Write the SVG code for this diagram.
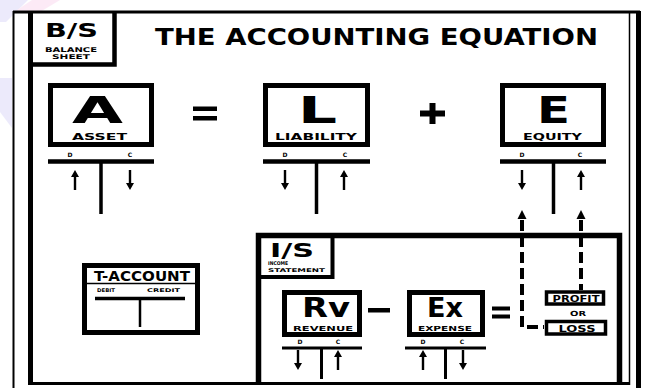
<svg xmlns="http://www.w3.org/2000/svg" width="646" height="388" viewBox="0 0 646 388">
<style>
.ln{stroke:#000;fill:none}
.box{fill:#fff;stroke:#000;stroke-width:5}
.sbox{fill:#fff;stroke:#000;stroke-width:3.5}
.t{font-family:"DejaVu Sans","Liberation Sans",sans-serif;font-weight:bold;fill:#000;text-anchor:middle}
.s{text-anchor:start}
.big{font-size:37px}
.mid{font-size:26px}
.lab{font-size:8px}
.dc{font-size:6px}
.dash{stroke:#000;stroke-width:4;fill:none;stroke-dasharray:11 5}
</style>
<defs>
<path id="up" d="M0 -10 L4 -3 H1.2 V10 H-1.2 V-3 H-4 Z" fill="#000"/>
<path id="dn" d="M0 10 L4 3 H1.2 V-10 H-1.2 V3 H-4 Z" fill="#000"/>
<path id="bigup" d="M0 0 L4.5 9 H-4.5 Z" fill="#000"/>
</defs>
<rect width="646" height="388" fill="#fff"/>
<g opacity="0.35">
<polygon points="0,0 28,0 6,22 0,22" fill="#c9c6f5"/>
<polygon points="32,0 60,0 40,12 14,12" fill="#f7c6e8"/>
<polygon points="0,78 12,78 12,128 0,112" fill="#c9c6f5"/>
</g>
<g id="frame">
<line class="ln" x1="13.5" y1="11" x2="13.5" y2="388" stroke-width="2"/>
<line class="ln" x1="13" y1="12" x2="640" y2="12" stroke-width="3"/>
<line class="ln" x1="30.5" y1="11" x2="30.5" y2="385" stroke-width="5"/>
<line class="ln" x1="28" y1="383.5" x2="630" y2="383.5" stroke-width="3"/>
<line class="ln" x1="629.5" y1="12" x2="629.5" y2="385" stroke-width="1.5"/>
<line class="ln" x1="638.5" y1="11" x2="638.5" y2="388" stroke-width="5"/>
</g>
<g id="bs-header">
<path class="ln" d="M114.5 12 V64.5 H30" stroke-width="4.5"/>
<text class="t" x="71.5" y="37" font-size="19" textLength="53" lengthAdjust="spacingAndGlyphs">B/S</text>
<text class="t" x="71" y="52" font-size="6.5" textLength="52" lengthAdjust="spacingAndGlyphs">BALANCE</text>
<text class="t" x="71" y="59" font-size="6.5" textLength="38" lengthAdjust="spacingAndGlyphs">SHEET</text>
</g>
<g id="title">
<text class="t" x="376.5" y="45" font-size="23" textLength="443" lengthAdjust="spacingAndGlyphs">THE ACCOUNTING EQUATION</text>
</g>
<g id="node-A">
<rect class="box" x="50.5" y="85.5" width="101" height="59"/>
<text class="t big" x="97.5" y="122.5" textLength="51" lengthAdjust="spacingAndGlyphs">A</text>
<text class="t lab" x="99.5" y="140" textLength="55" lengthAdjust="spacingAndGlyphs">ASSET</text>
<line class="ln" x1="48" y1="161.5" x2="154" y2="161.5" stroke-width="4.5"/>
<line class="ln" x1="101" y1="163" x2="101" y2="214" stroke-width="3.5"/>
<text class="t dc" x="70" y="157">D</text>
<text class="t dc" x="130" y="157">C</text>
<use href="#up" x="75" y="180"/>
<use href="#dn" x="130" y="180"/>
</g>
<g id="op-eq">
<rect x="193" y="106.5" width="24" height="4.5"/>
<rect x="193" y="116" width="24" height="4.5"/>
</g>
<g id="node-L">
<rect class="box" x="265.5" y="85.5" width="102" height="59"/>
<text class="t big" x="317.5" y="122.5" textLength="39" lengthAdjust="spacingAndGlyphs">L</text>
<text class="t lab" x="316" y="140" textLength="82" lengthAdjust="spacingAndGlyphs">LIABILITY</text>
<line class="ln" x1="263" y1="161.5" x2="370" y2="161.5" stroke-width="4.5"/>
<line class="ln" x1="316.5" y1="163" x2="316.5" y2="214" stroke-width="3.5"/>
<text class="t dc" x="285" y="157">D</text>
<text class="t dc" x="345" y="157">C</text>
<use href="#dn" x="285" y="180"/>
<use href="#up" x="344" y="180"/>
</g>
<g id="op-plus">
<rect x="420" y="110.5" width="25" height="6"/>
<rect x="429.5" y="103" width="6" height="21"/>
</g>
<g id="node-E">
<rect class="box" x="502.5" y="85.5" width="101" height="59"/>
<text class="t big" x="553.5" y="122.5" textLength="33" lengthAdjust="spacingAndGlyphs">E</text>
<text class="t lab" x="552.5" y="140" textLength="59" lengthAdjust="spacingAndGlyphs">EQUITY</text>
<line class="ln" x1="500" y1="161.5" x2="606" y2="161.5" stroke-width="4.5"/>
<line class="ln" x1="553.5" y1="163" x2="553.5" y2="214" stroke-width="3.5"/>
<text class="t dc" x="522" y="157">D</text>
<text class="t dc" x="580" y="157">C</text>
<use href="#dn" x="522" y="180"/>
<use href="#up" x="581" y="180"/>
</g>
<g id="t-account">
<rect class="box" x="84.5" y="265.5" width="113" height="67"/>
<line class="ln" x1="84" y1="283.5" x2="198" y2="283.5" stroke-width="1.5"/>
<text class="t" x="142" y="280.5" font-size="14" textLength="96" lengthAdjust="spacingAndGlyphs">T-ACCOUNT</text>
<text class="t" x="106" y="292" font-size="5" textLength="18" lengthAdjust="spacingAndGlyphs">DEBIT</text>
<text class="t" x="163.5" y="292" font-size="5" textLength="33" lengthAdjust="spacingAndGlyphs">CREDIT</text>
<line class="ln" x1="95" y1="298.5" x2="185" y2="298.5" stroke-width="3.5"/>
<line class="ln" x1="140" y1="299" x2="140" y2="327" stroke-width="2.5"/>
</g>
<g id="is-box">
<path class="ln" d="M258.5 385 V235.5 H619.5 V385" stroke-width="5.5"/>
<path class="ln" d="M332.5 235 V277 H258" stroke-width="4"/>
<text class="t" x="292" y="256.5" font-size="19" textLength="44" lengthAdjust="spacingAndGlyphs">I/S</text>
<text class="t s" x="268" y="264.5" font-size="5" textLength="20" lengthAdjust="spacingAndGlyphs">INCOME</text>
<text class="t s" x="268" y="271.5" font-size="5" textLength="57" lengthAdjust="spacingAndGlyphs">STATEMENT</text>
</g>
<g id="node-Rv">
<rect class="box" x="284.5" y="292.5" width="75" height="42"/>
<text class="t mid" x="326" y="316.5" textLength="48" lengthAdjust="spacingAndGlyphs">Rv</text>
<text class="t" x="323" y="331" font-size="7" textLength="60" lengthAdjust="spacingAndGlyphs">REVENUE</text>
<line class="ln" x1="282" y1="348" x2="362" y2="348" stroke-width="3"/>
<line class="ln" x1="321.5" y1="349" x2="321.5" y2="379" stroke-width="3"/>
<text class="t dc" x="300" y="344">D</text>
<text class="t dc" x="338" y="344">C</text>
<use href="#dn" x="298" y="360"/>
<use href="#up" x="338" y="360"/>
</g>
<g id="op-minus">
<rect x="368" y="308" width="22" height="4.5"/>
</g>
<g id="node-Ex">
<rect class="box" x="409.5" y="292.5" width="73" height="42"/>
<text class="t mid" x="445" y="316.5" textLength="36" lengthAdjust="spacingAndGlyphs">Ex</text>
<text class="t" x="445" y="331" font-size="7" textLength="54" lengthAdjust="spacingAndGlyphs">EXPENSE</text>
<line class="ln" x1="405" y1="348" x2="486" y2="348" stroke-width="3"/>
<line class="ln" x1="445.5" y1="349" x2="445.5" y2="379" stroke-width="3"/>
<text class="t dc" x="423" y="344">D</text>
<text class="t dc" x="462" y="344">C</text>
<use href="#up" x="423" y="360"/>
<use href="#dn" x="463" y="360"/>
</g>
<g id="op-eq2">
<rect x="492" y="306.5" width="18" height="4"/>
<rect x="492" y="314.5" width="18" height="4"/>
</g>
<g id="profit">
<rect class="sbox" x="546.5" y="292" width="57" height="12"/>
<text class="t" x="576" y="301.5" font-size="8" textLength="47" lengthAdjust="spacingAndGlyphs">PROFIT</text>
<text class="t" x="578" y="316" font-size="7" textLength="16" lengthAdjust="spacingAndGlyphs">OR</text>
</g>
<g id="loss">
<rect class="sbox" x="546.5" y="321.5" width="59" height="12.5"/>
<text class="t" x="577" y="331.5" font-size="8" textLength="37" lengthAdjust="spacingAndGlyphs">LOSS</text>
</g>
<g id="connectors">
<path class="dash" d="M522 220 V327 H544"/>
<path class="dash" d="M581 220 V290"/>
<use href="#bigup" x="522" y="210"/>
<use href="#bigup" x="581" y="210"/>
</g>
</svg>
